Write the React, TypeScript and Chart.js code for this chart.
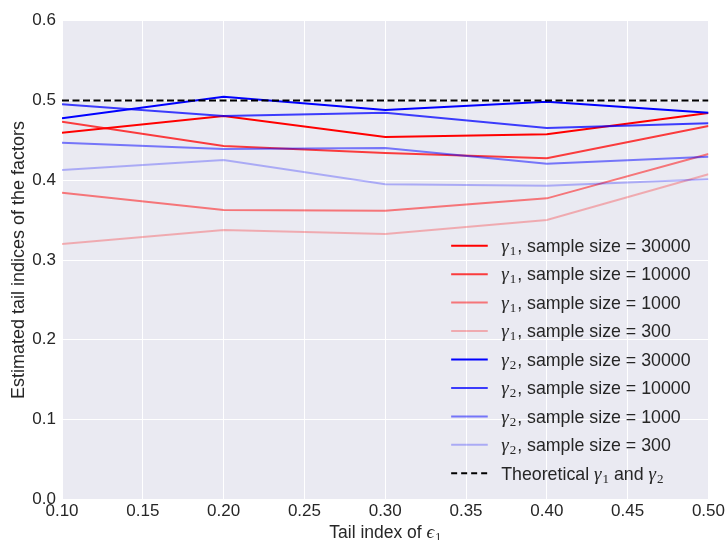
import React, { useEffect, useRef } from "react";
import { Chart, registerables } from "chart.js";

Chart.register(...registerables);

// Tail index of epsilon_1 (x positions of the simulation runs)
const tailIndexEps1 = [0.1, 0.2, 0.3, 0.4, 0.5];

// Estimated gamma_1 for each sample size
const gamma1_30000 = [0.4596, 0.4805, 0.4542, 0.4576, 0.4843];
const gamma1_10000 = [0.4734, 0.4429, 0.4341, 0.4275, 0.468];
const gamma1_1000 = [0.3844, 0.3627, 0.3618, 0.3773, 0.4329];
const gamma1_300 = [0.32, 0.3376, 0.3326, 0.3501, 0.4074];

// Estimated gamma_2 for each sample size
const gamma2_30000 = [0.4776, 0.5047, 0.488, 0.4984, 0.4846];
const gamma2_10000 = [0.4952, 0.4805, 0.4846, 0.4655, 0.4714];
const gamma2_1000 = [0.447, 0.4391, 0.4404, 0.4207, 0.4295];
const gamma2_300 = [0.4128, 0.4254, 0.395, 0.3931, 0.4012];

// Theoretical value of both tail indices
const theoretical = [0.5, 0.5, 0.5, 0.5, 0.5];

const sampleSizes = ["30000", "10000", "1000", "300"];
const sizeAlphas = [1, 0.75, 0.5, 0.27];

const xTicks = [0.1, 0.15, 0.2, 0.25, 0.3, 0.35, 0.4, 0.45, 0.5];
const yTicks = [0.0, 0.1, 0.2, 0.3, 0.4, 0.5, 0.6];

const TEXT = "#262626";
const SANS = "'Liberation Sans', Arial, sans-serif";
const SERIF = "'Liberation Serif', 'DejaVu Serif', serif";
const FACE = "#EAEAF2";

type Part = { text: string; font: string; dy?: number; gap?: number };

function drawParts(ctx: CanvasRenderingContext2D, parts: Part[], x: number, y: number, align: "left" | "center") {
  let width = 0;
  for (const p of parts) {
    ctx.font = p.font;
    width += ctx.measureText(p.text).width + (p.gap || 0);
  }
  let cx = align === "center" ? x - width / 2 : x;
  ctx.textAlign = "left";
  ctx.textBaseline = "alphabetic";
  for (const p of parts) {
    ctx.font = p.font;
    cx += p.gap || 0;
    ctx.fillText(p.text, cx, y + (p.dy || 0));
    cx += ctx.measureText(p.text).width;
  }
}

const LEG = `17.8px ${SANS}`;
const gammaParts = (idx: string): Part[] => [
  { text: "γ", font: `italic 19px ${SERIF}` },
  { text: idx, font: `13px ${SERIF}`, dy: 3, gap: 1 },
];
const greekLabel = (idx: string, size: string): Part[] => [
  ...gammaParts(idx),
  { text: `, sample size = ${size}`, font: LEG, gap: 1 },
];

const facePlugin = {
  id: "face",
  beforeDraw(chart: any) {
    const { ctx, chartArea: a } = chart;
    ctx.save();
    ctx.fillStyle = FACE;
    ctx.fillRect(a.left, a.top, a.right - a.left, a.bottom - a.top);
    ctx.restore();
  },
};

const annotatePlugin = {
  id: "annotate",
  afterDraw(chart: any) {
    const { ctx, chartArea: a } = chart;
    ctx.save();
    ctx.fillStyle = TEXT;
    // x-axis title with the epsilon symbol
    drawParts(
      ctx,
      [
        { text: "Tail index of ", font: `17.5px ${SANS}` },
        { text: "ϵ", font: `italic 19px ${SERIF}` },
        { text: "1", font: `12px ${SERIF}`, dy: 3, gap: 1 },
      ],
      (a.left + a.right) / 2,
      537.5,
      "center"
    );

    // legend inside the plot, lower right
    const lx0 = a.right - 257.3;
    const lx1 = lx0 + 36.6;
    const tx = lx0 + 50;
    const y0 = a.bottom - 253.6;
    const step = 28.45;
    const items: { color: string; dash: number[]; parts: Part[] }[] = [];
    sampleSizes.forEach((s, i) =>
      items.push({ color: `rgba(255,0,0,${sizeAlphas[i]})`, dash: [], parts: greekLabel("1", s) })
    );
    sampleSizes.forEach((s, i) =>
      items.push({ color: `rgba(0,0,255,${sizeAlphas[i]})`, dash: [], parts: greekLabel("2", s) })
    );
    items.push({
      color: "#000000",
      dash: [6, 4],
      parts: [
        { text: "Theoretical ", font: LEG },
        ...gammaParts("1"),
        { text: " and ", font: LEG },
        ...gammaParts("2"),
      ],
    });
    items.forEach((it, i) => {
      const y = y0 + i * step;
      ctx.beginPath();
      ctx.setLineDash(it.dash);
      ctx.strokeStyle = it.color;
      ctx.lineWidth = 2;
      ctx.moveTo(lx0, y);
      ctx.lineTo(lx1, y);
      ctx.stroke();
      ctx.setLineDash([]);
      ctx.fillStyle = TEXT;
      drawParts(ctx, it.parts, tx, y + 6.3, "left");
    });
    ctx.restore();
  },
};

export default function App() {
  const canvasRef = useRef<HTMLCanvasElement | null>(null);

  useEffect(() => {
    document.body.style.margin = "0";
    if (!canvasRef.current) return;
    const toPoints = (vals: number[]) => tailIndexEps1.map((x, j) => ({ x, y: vals[j] }));
    const g1 = [gamma1_30000, gamma1_10000, gamma1_1000, gamma1_300];
    const g2 = [gamma2_30000, gamma2_10000, gamma2_1000, gamma2_300];
    const datasets: any[] = [];
    g1.forEach((vals, i) =>
      datasets.push({
        label: `γ1, sample size = ${sampleSizes[i]}`,
        data: toPoints(vals),
        borderColor: `rgba(255,0,0,${sizeAlphas[i]})`,
        borderWidth: 2,
        pointRadius: 0,
        tension: 0,
        fill: false,
      })
    );
    g2.forEach((vals, i) =>
      datasets.push({
        label: `γ2, sample size = ${sampleSizes[i]}`,
        data: toPoints(vals),
        borderColor: `rgba(0,0,255,${sizeAlphas[i]})`,
        borderWidth: 2,
        pointRadius: 0,
        tension: 0,
        fill: false,
      })
    );
    datasets.push({
      label: "Theoretical γ1 and γ2",
      data: toPoints(theoretical),
      borderColor: "#000000",
      borderWidth: 2,
      borderDash: [7, 3.5],
      pointRadius: 0,
      fill: false,
    });
    // later series are drawn on top
    datasets.forEach((d, i) => (d.order = datasets.length - i));

    const chart = new Chart(canvasRef.current, {
      type: "line",
      data: { datasets },
      options: {
        responsive: false,
        animation: false,
        layout: { padding: { top: 20.7, right: 18, left: 0, bottom: 0 } },
        plugins: { legend: { display: false }, tooltip: { enabled: false } },
        scales: {
          x: {
            type: "linear",
            min: xTicks[0],
            max: xTicks[xTicks.length - 1],
            afterBuildTicks: (s: any) => {
              s.ticks = xTicks.map((v) => ({ value: v }));
            },
            afterFit: (s: any) => {
              s.height = 40.7;
            },
            ticks: {
              callback: (v: any) => Number(v).toFixed(2),
              color: TEXT,
              font: { family: SANS, size: 17 },
              padding: 2,
              maxRotation: 0,
              autoSkip: false,
            },
            grid: { color: "#ffffff", lineWidth: 1, drawTicks: false },
            border: { display: false },
          },
          y: {
            min: yTicks[0],
            max: yTicks[yTicks.length - 1],
            afterBuildTicks: (s: any) => {
              s.ticks = yTicks.map((v) => ({ value: v }));
            },
            afterFit: (s: any) => {
              s.width = 62;
            },
            ticks: {
              callback: (v: any) => Number(v).toFixed(1),
              color: TEXT,
              font: { family: SANS, size: 17 },
              padding: 6,
              autoSkip: false,
            },
            grid: { color: "#ffffff", lineWidth: 1, drawTicks: false },
            border: { display: false },
            title: {
              display: true,
              text: "Estimated tail indices of the factors",
              color: TEXT,
              font: { family: SANS, size: 18 },
              padding: { top: 7.8, bottom: 0 },
            },
          },
        },
      },
      plugins: [facePlugin, annotatePlugin],
    });
    return () => chart.destroy();
  }, []);

  return (
    <div style={{ width: 727, height: 540 }}>
      <canvas ref={canvasRef} width={727} height={540} style={{ display: "block" }} />
    </div>
  );
}
